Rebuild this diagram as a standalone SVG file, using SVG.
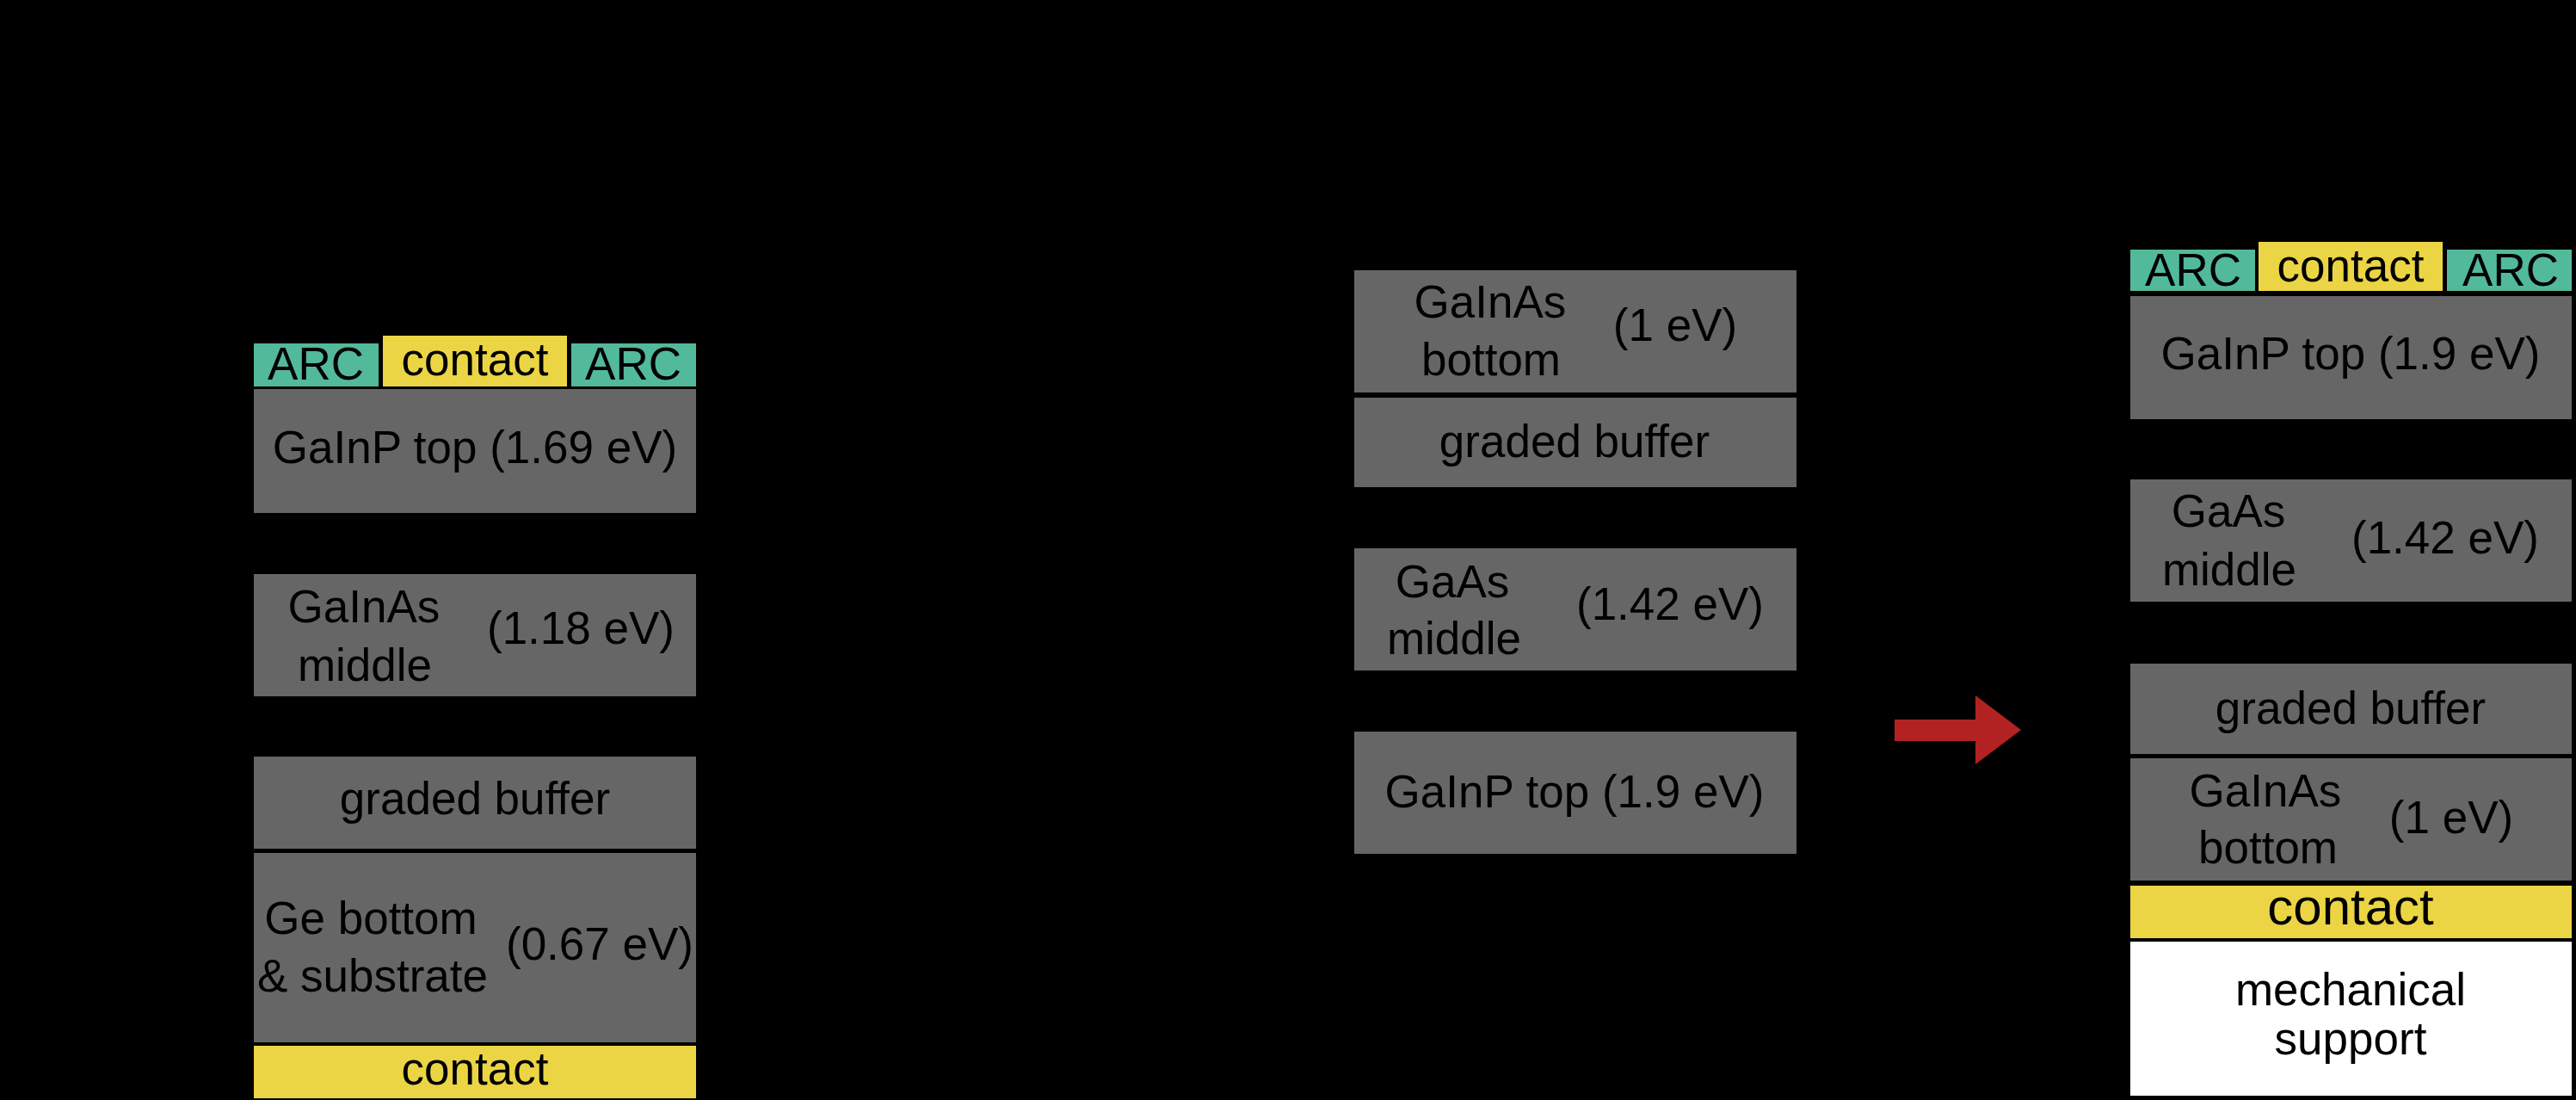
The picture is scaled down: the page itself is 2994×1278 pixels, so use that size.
<svg xmlns="http://www.w3.org/2000/svg" width="2994" height="1278" viewBox="0 0 2994 1278">
<style>
text{font-family:"Liberation Sans",Arial,sans-serif;font-size:53px;fill:#000;text-anchor:middle}
.cell{fill:#666666}
.arc{fill:#53b99b}
.ct{fill:#ebd544}
.ws{fill:#ffffff}
</style>
<rect x="0" y="0" width="2994" height="1278" fill="#000"/>
<g id="left-stack">
<g id="l-arc1"><rect class="arc" x="295" y="399" width="145" height="50"/><text x="367" y="441">ARC</text></g>
<g id="l-contact-top"><rect class="ct" x="445" y="390" width="214" height="59"/><text x="552" y="436">contact</text></g>
<g id="l-arc2"><rect class="arc" x="664" y="399" width="145" height="50"/><text x="736" y="441">ARC</text></g>
<g id="l-top"><rect class="cell" x="295" y="452" width="514" height="144"/><text x="552" y="538">GaInP top (1.69 eV)</text></g>
<g id="l-mid"><rect class="cell" x="295" y="667" width="514" height="142"/><text x="423" y="723">GaInAs</text><text x="424" y="791">middle</text><text x="675" y="748">(1.18 eV)</text></g>
<g id="l-buffer"><rect class="cell" x="295" y="879" width="514" height="107"/><text x="552" y="946">graded buffer</text></g>
<g id="l-ge"><rect class="cell" x="295" y="991" width="514" height="220"/><text x="431" y="1085">Ge bottom</text><text x="433" y="1152">&amp; substrate</text><text x="697" y="1115">(0.67 eV)</text></g>
<g id="l-contact-bot"><rect class="ct" x="295" y="1215" width="514" height="61"/><text x="552" y="1260">contact</text></g>
</g>
<g id="middle-stack">
<g id="m-bottom"><rect class="cell" x="1574" y="314" width="514" height="142"/><text x="1732" y="369">GaInAs</text><text x="1733" y="436">bottom</text><text x="1947" y="396">(1 eV)</text></g>
<g id="m-buffer"><rect class="cell" x="1574" y="462" width="514" height="104"/><text x="1830" y="531">graded buffer</text></g>
<g id="m-middle"><rect class="cell" x="1574" y="637" width="514" height="142"/><text x="1688" y="694">GaAs</text><text x="1690" y="760">middle</text><text x="1941" y="720">(1.42 eV)</text></g>
<g id="m-top"><rect class="cell" x="1574" y="850" width="514" height="142"/><text x="1830" y="938">GaInP top (1.9 eV)</text></g>
</g>
<g id="connectors">
<polygon id="arrow" fill="#b22222" points="2202,836 2296,836 2296,808 2349,848 2296,888 2296,861 2202,861"/>
</g>
<g id="right-stack">
<g id="r-arc1"><rect class="arc" x="2476" y="290" width="145" height="48"/><text x="2549" y="332">ARC</text></g>
<g id="r-contact-top"><rect class="ct" x="2625" y="281" width="214" height="57"/><text x="2732" y="327">contact</text></g>
<g id="r-arc2"><rect class="arc" x="2844" y="290" width="145" height="48"/><text x="2918" y="332">ARC</text></g>
<g id="r-top"><rect class="cell" x="2476" y="344" width="513" height="143"/><text x="2732" y="429">GaInP top (1.9 eV)</text></g>
<g id="r-middle"><rect class="cell" x="2476" y="557" width="513" height="142"/><text x="2590" y="612">GaAs</text><text x="2591" y="680">middle</text><text x="2842" y="643">(1.42 eV)</text></g>
<g id="r-buffer"><rect class="cell" x="2476" y="771" width="513" height="105"/><text x="2732" y="841">graded buffer</text></g>
<g id="r-bottom"><rect class="cell" x="2476" y="881" width="513" height="142"/><text x="2633" y="937">GaInAs</text><text x="2636" y="1003">bottom</text><text x="2849" y="968">(1 eV)</text></g>
<g id="r-contact-bot"><rect class="ct" x="2476" y="1029" width="513" height="61"/><text x="2732" y="1074" style="font-size:60px">contact</text></g>
<g id="r-support"><rect class="ws" x="2476" y="1094" width="513" height="179"/><text x="2732" y="1168">mechanical</text><text x="2732" y="1225">support</text></g>
</g>
</svg>
